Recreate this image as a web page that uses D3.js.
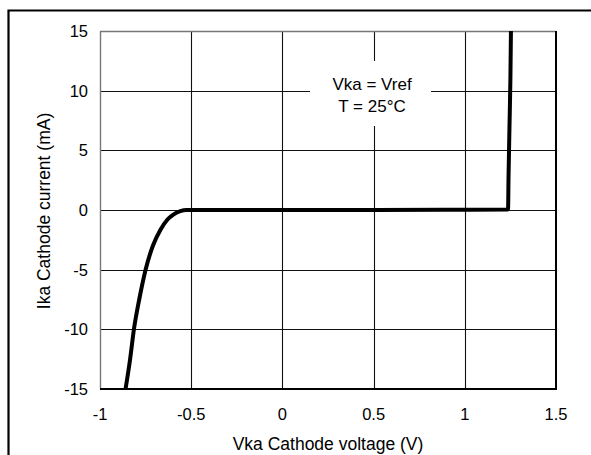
<!DOCTYPE html>
<html>
<head>
<meta charset="utf-8">
<script src="https://cdn.jsdelivr.net/npm/d3@7"></script>
<style>
  html, body { margin: 0; padding: 0; background: #fff; }
  svg { display: block; font-family: Arial, "Liberation Sans", sans-serif; }
</style>
</head>
<body>
<svg id="chart" width="591" height="455"></svg>
<script>
// ---- data ----
const voltage = [-0.86, -0.835, -0.814, -0.785, -0.75, -0.71, -0.67, -0.63, -0.6, -0.56, -0.525, 0.0, 0.5, 0.9, 1.237, 1.24, 1.245, 1.25, 1.253];
const current = [-15, -12.5, -10, -7.5, -5, -3, -1.7, -0.8, -0.4, -0.1, 0, 0, 0, 0.02, 0.05, 3, 7, 11, 15];
const xTicks = [-1, -0.5, 0, 0.5, 1, 1.5];
const yTicks = [-15, -10, -5, 0, 5, 10, 15];
const xTitle = "Vka Cathode voltage (V)";
const yTitle = "Ika Cathode current (mA)";
const noteLines = ["Vka = Vref", "T = 25°C"];

// ---- layout ----
const svg = d3.select("#chart");
const pL = 100, pR = 556, pT = 31, pB = 389;
const x = d3.scaleLinear().domain([-1, 1.5]).range([pL, pR]);
const y = d3.scaleLinear().domain([-15, 15]).range([pB, pT]);

// outer frame
svg.append("path")
  .attr("d", `M8.5,456 L8.5,10.5 L592,10.5`)
  .attr("fill", "none").attr("stroke", "#000").attr("stroke-width", 2.2);

// grid
const g = svg.append("g");
g.selectAll("line.vx").data(xTicks.slice(1, -1)).join("line")
  .attr("x1", d => Math.round(x(d)) + 0.5).attr("x2", d => Math.round(x(d)) + 0.5)
  .attr("y1", pT).attr("y2", pB)
  .attr("stroke", "#111").attr("stroke-width", 1.1);
g.selectAll("line.hy").data(yTicks.slice(1, -1)).join("line")
  .attr("y1", d => Math.round(y(d)) + 0.5).attr("y2", d => Math.round(y(d)) + 0.5)
  .attr("x1", pL).attr("x2", pR)
  .attr("stroke", "#111").attr("stroke-width", 1.1);

// plot border: top/left gray, right/bottom black
svg.append("line").attr("x1", pL + 0.5).attr("x2", pL + 0.5).attr("y1", pT).attr("y2", pB)
  .attr("stroke", "#777").attr("stroke-width", 1.4);
svg.append("line").attr("x1", pL).attr("x2", pR).attr("y1", pT + 0.5).attr("y2", pT + 0.5)
  .attr("stroke", "#777").attr("stroke-width", 1.4);
svg.append("line").attr("x1", pR).attr("x2", pR).attr("y1", pT).attr("y2", pB + 1)
  .attr("stroke", "#000").attr("stroke-width", 2);
svg.append("line").attr("x1", pL).attr("x2", pR + 1).attr("y1", pB).attr("y2", pB)
  .attr("stroke", "#000").attr("stroke-width", 2);

// annotation box
const note = svg.append("g");
note.append("rect").attr("x", 310).attr("y", 61).attr("width", 121).attr("height", 65).attr("fill", "#fff");
note.selectAll("text").data(noteLines).join("text")
  .attr("x", 372).attr("y", (d, i) => 90 + i * 22)
  .attr("text-anchor", "middle").attr("font-size", 17).attr("fill", "#000")
  .text(d => d);

// curve
const pts = voltage.map((v, i) => [v, current[i]]);
svg.append("path")
  .datum(pts)
  .attr("d", d3.line().x(d => x(d[0])).y(d => y(d[1])).curve(d3.curveMonotoneX))
  .attr("fill", "none").attr("stroke", "#000").attr("stroke-width", 4)
  .attr("stroke-linejoin", "round");

// tick labels
svg.selectAll("text.yt").data(yTicks).join("text")
  .attr("x", 88).attr("y", d => y(d) + 6)
  .attr("text-anchor", "end").attr("font-size", 16.5).attr("fill", "#000")
  .text(d => d);
svg.selectAll("text.xt").data(xTicks).join("text")
  .attr("x", d => x(d)).attr("y", 420)
  .attr("text-anchor", "middle").attr("font-size", 16.5).attr("fill", "#000")
  .text(d => d);

// axis titles
svg.append("text").attr("x", 328).attr("y", 450)
  .attr("text-anchor", "middle").attr("font-size", 17.5).attr("fill", "#000").text(xTitle);
svg.append("text").attr("transform", "translate(50,211) rotate(-90)")
  .attr("text-anchor", "middle").attr("font-size", 17.5).attr("fill", "#000").text(yTitle);
</script>
</body>
</html>
